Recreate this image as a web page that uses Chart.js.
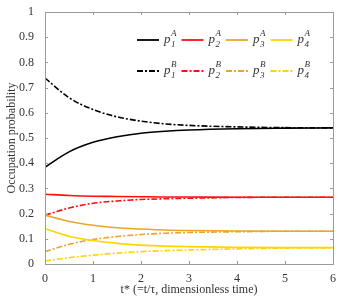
<!DOCTYPE html>
<html>
<head>
<meta charset="utf-8">
<script src="https://cdn.jsdelivr.net/npm/chart.js@4.4.1/dist/chart.umd.min.js"></script>
<style>
  html, body { margin: 0; padding: 0; background: #fff; }
  #wrap { width: 353px; height: 300px; }
</style>
</head>
<body>
<div id="wrap"><canvas id="chart-area" width="353" height="300"></canvas></div>
<script>
// time points (dimensionless t*)
var tValues = [0, 0.5, 1, 1.5, 2, 2.5, 3, 4, 5, 6];

// occupation probabilities
var p1A = [0.384, 0.445, 0.483, 0.505, 0.519, 0.527, 0.532, 0.537, 0.539, 0.540];
var p2A = [0.277, 0.272, 0.269, 0.268, 0.267, 0.266, 0.266, 0.265, 0.265, 0.265];
var p3A = [0.194, 0.169, 0.154, 0.144, 0.139, 0.135, 0.133, 0.131, 0.130, 0.130];
var p4A = [0.140, 0.110, 0.093, 0.082, 0.075, 0.071, 0.069, 0.066, 0.065, 0.065];
var p1B = [0.738, 0.660, 0.613, 0.584, 0.567, 0.556, 0.550, 0.544, 0.541, 0.540];
var p2B = [0.194, 0.222, 0.241, 0.250, 0.256, 0.259, 0.261, 0.264, 0.265, 0.265];
var p3B = [0.049, 0.078, 0.097, 0.109, 0.117, 0.122, 0.125, 0.128, 0.130, 0.130];
var p4B = [0.012, 0.025, 0.035, 0.043, 0.049, 0.053, 0.056, 0.060, 0.063, 0.064];

var seriesNames = ['1', '2', '3', '4'];
var seriesColors = ['#000000', '#ff1010', '#eca52a', '#ffd500'];
var dashDot = [6, 2, 2, 2];

function toPoints(arr) {
  return arr.map(function (v, i) { return { x: tValues[i], y: v }; });
}

var seriesA = [p1A, p2A, p3A, p4A];
var seriesB = [p1B, p2B, p3B, p4B];
var datasets = [];
seriesA.forEach(function (s, i) {
  datasets.push({ label: 'p' + seriesNames[i] + 'A', sub: seriesNames[i], sup: 'A',
    data: toPoints(s), borderColor: seriesColors[i], borderWidth: 1.6, borderDash: [] });
});
seriesB.forEach(function (s, i) {
  datasets.push({ label: 'p' + seriesNames[i] + 'B', sub: seriesNames[i], sup: 'B',
    data: toPoints(s), borderColor: seriesColors[i], borderWidth: 1.6, borderDash: dashDot });
});

var serif = "'Liberation Serif', 'Times New Roman', serif";

// box, inside tick marks and the in-plot legend
var framePlugin = {
  id: 'frame',
  afterDraw: function (chart) {
    var ctx = chart.ctx, a = chart.chartArea;
    var xs = chart.scales.x, ys = chart.scales.y;
    ctx.save();
    ctx.strokeStyle = '#9a9a9a';
    ctx.lineWidth = 1;
    ctx.strokeRect(Math.round(a.left) + 0.5, Math.round(a.top) + 0.5,
      Math.round(a.right - a.left), Math.round(a.bottom - a.top));
    ctx.beginPath();
    xs.ticks.forEach(function (t) {
      var px = Math.round(xs.getPixelForValue(t.value)) + 0.5;
      ctx.moveTo(px, a.bottom); ctx.lineTo(px, a.bottom - 3);
      ctx.moveTo(px, a.top); ctx.lineTo(px, a.top + 3);
    });
    ys.ticks.forEach(function (t) {
      var py = Math.round(ys.getPixelForValue(t.value)) + 0.5;
      ctx.moveTo(a.left, py); ctx.lineTo(a.left + 3, py);
      ctx.moveTo(a.right, py); ctx.lineTo(a.right - 3, py);
    });
    ctx.stroke();

    // legend: 4 columns, A row then B row
    chart.data.datasets.forEach(function (ds, i) {
      var col = i % 4, row = Math.floor(i / 4);
      var x0 = a.left + 92 + col * 44.5;
      var y0 = a.top + 28 + row * 31;
      ctx.strokeStyle = ds.borderColor;
      ctx.lineWidth = 1.8;
      ctx.setLineDash(ds.borderDash);
      ctx.beginPath();
      ctx.moveTo(x0, y0); ctx.lineTo(x0 + 22, y0);
      ctx.stroke();
      ctx.setLineDash([]);
      ctx.fillStyle = '#333';
      ctx.textBaseline = 'alphabetic';
      ctx.textAlign = 'left';
      var lx = x0 + 27;
      ctx.font = 'italic 13px ' + serif;
      ctx.fillText('p', lx, y0 + 3);
      var pw = ctx.measureText('p').width;
      ctx.font = 'italic 9px ' + serif;
      ctx.fillText(ds.sub, lx + pw + 0.5, y0 + 7);
      ctx.fillText(ds.sup, lx + pw + 0.5, y0 - 4);
    });
    ctx.restore();
  }
};

var config = {
  type: 'line',
  data: { datasets: datasets },
  options: {
    responsive: false,
    animation: false,
    events: [],
    elements: {
      point: { radius: 0 },
      line: { cubicInterpolationMode: 'monotone', fill: false }
    },
    layout: { padding: { left: 4, right: 20, top: 12, bottom: 0 } },
    plugins: { legend: { display: false }, tooltip: { enabled: false } },
    scales: {
      x: {
        type: 'linear', min: 0, max: 6,
        grid: { display: false },
        border: { display: false },
        ticks: { stepSize: 1, color: '#333', font: { family: serif, size: 12 }, padding: 0 },
        title: { display: true, text: 't* (=t/\u03c4, dimensionless time)', color: '#333',
          font: { family: serif, size: 12 }, padding: { top: 1, bottom: 3 } },
        afterFit: function (s) { s.height = 36; }
      },
      y: {
        min: 0, max: 1,
        grid: { display: false },
        border: { display: false },
        ticks: { stepSize: 0.1, color: '#333', font: { family: serif, size: 12 }, padding: 3,
          callback: function (v) { return Math.round(v * 10) / 10 + ''; } },
        title: { display: true, text: 'Occupation probability', color: '#333',
          font: { family: serif, size: 12 }, padding: { top: 1, bottom: 1 } },
        afterFit: function (s) { s.width = 41; }
      }
    }
  },
  plugins: [framePlugin]
};

var ctx = document.getElementById('chart-area').getContext('2d');
window.myChart = new Chart(ctx, config);
</script>
</body>
</html>
